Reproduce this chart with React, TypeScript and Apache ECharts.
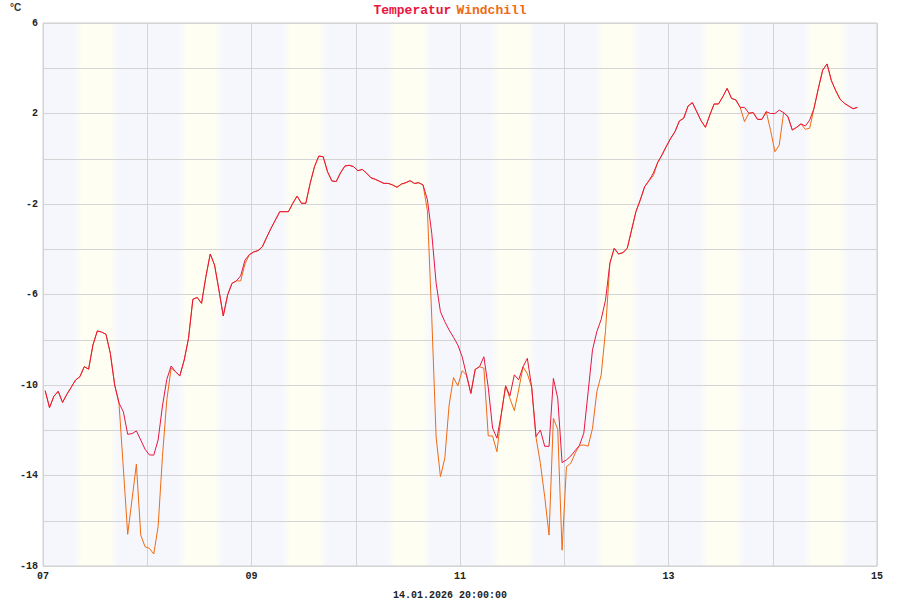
import React, { useEffect, useRef } from "react";
import * as echarts from "echarts";

// hourly readings starting 07.01.2026 00:00 (x in days of month)
const startDay = 7;
const temperatur = [
  -10.25, -11.0, -10.5, -10.28, -10.77, -10.41, -10.1, -9.78, -9.63, -9.19,
  -9.3, -8.23, -7.61, -7.66, -7.76, -8.6, -10.0, -10.8, -11.18, -12.18,
  -12.15, -12.03, -12.43, -12.84, -13.09, -13.1, -12.43, -10.93, -9.75, -9.16,
  -9.41, -9.6, -8.9, -7.94, -6.21, -6.13, -6.39, -5.21, -4.21, -4.7,
  -5.8, -6.95, -6.02, -5.51, -5.4, -5.18, -4.48, -4.24, -4.12, -4.06,
  -3.89, -3.47, -3.07, -2.71, -2.34, -2.34, -2.34, -1.97, -1.65, -1.97,
  -1.97, -1.09, -0.35, 0.12, 0.09, -0.57, -0.98, -1.01, -0.62, -0.32,
  -0.29, -0.35, -0.53, -0.47, -0.64, -0.84, -0.91, -1.0, -1.09, -1.09,
  -1.16, -1.26, -1.12, -1.06, -0.97, -1.09, -1.06, -1.16, -1.82, -3.3,
  -5.5, -6.76, -7.2, -7.57, -7.89, -8.23, -8.75, -9.56, -10.37, -9.31,
  -9.19, -8.75, -10.1, -11.9, -12.35, -11.3, -10.04, -10.48, -9.55, -9.77,
  -9.2, -8.82, -10.1, -12.28, -11.99, -12.71, -12.71, -9.71, -10.59, -13.43,
  -13.31, -13.14, -12.9, -12.67, -12.13, -10.3, -8.45, -7.64, -7.1, -6.25,
  -4.62, -3.96, -4.21, -4.15, -3.96, -3.15, -2.34, -1.82, -1.24, -0.97,
  -0.64, -0.17, 0.17, 0.55, 0.9, 1.2, 1.67, 1.79, 2.33, 2.48,
  2.08, 1.68, 1.39, 1.93, 2.42, 2.42, 2.74, 3.11, 2.67, 2.6,
  2.27, 2.27, 2.01, 2.04, 1.74, 1.74, 2.08, 2.0, 2.0, 2.15,
  2.04, 1.86, 1.27, 1.39, 1.54, 1.45, 1.71, 2.23, 3.11, 3.92,
  4.19, 3.45, 3.01, 2.63, 2.45, 2.33, 2.21, 2.27,
];
const windchill = [
  -10.25, -11.0, -10.5, -10.28, -10.77, -10.41, -10.1, -9.78, -9.63, -9.19,
  -9.3, -8.23, -7.61, -7.66, -7.76, -8.6, -10.0, -10.8, -13.7, -16.6,
  -15.05, -13.5, -16.63, -17.15, -17.22, -17.47, -16.26, -13.17, -10.66, -9.25,
  -9.41, -9.6, -8.9, -7.94, -6.21, -6.13, -6.39, -5.21, -4.21, -4.7,
  -5.8, -6.95, -6.02, -5.51, -5.4, -5.4, -4.65, -4.24, -4.12, -4.06,
  -3.89, -3.47, -3.07, -2.71, -2.34, -2.34, -2.34, -1.97, -1.65, -1.97,
  -1.97, -1.09, -0.35, 0.12, 0.09, -0.57, -0.98, -1.01, -0.62, -0.32,
  -0.29, -0.35, -0.53, -0.47, -0.64, -0.84, -0.91, -1.0, -1.09, -1.09,
  -1.16, -1.26, -1.12, -1.06, -0.97, -1.09, -1.06, -1.16, -2.3, -7.0,
  -12.3, -14.05, -13.24, -10.88, -9.67, -10.04, -9.37, -9.56, -10.37, -9.31,
  -9.19, -9.26, -12.25, -12.25, -12.95, -11.3, -10.04, -10.6, -11.13, -10.22,
  -9.2, -9.5, -10.1, -12.31, -13.46, -14.94, -16.63, -11.47, -11.96, -17.3,
  -13.61, -13.46, -13.02, -12.67, -12.65, -12.7, -11.92, -10.3, -9.56, -7.6,
  -4.62, -3.96, -4.21, -4.15, -3.96, -3.15, -2.34, -1.82, -1.24, -0.97,
  -0.75, -0.17, 0.17, 0.55, 0.9, 1.2, 1.67, 1.79, 2.33, 2.48,
  2.08, 1.68, 1.39, 1.93, 2.42, 2.42, 2.74, 3.11, 2.67, 2.6,
  2.27, 1.64, 2.01, 2.04, 1.74, 1.74, 2.08, 1.25, 0.31, 0.61,
  2.04, 1.86, 1.27, 1.39, 1.54, 1.3, 1.35, 2.23, 3.11, 3.92,
  4.19, 3.45, 3.01, 2.63, 2.45, 2.33, 2.21, 2.27,
];
const xTickDays = [7, 9, 11, 13, 15];
const yTickLabels = [-18, -14, -10, -6, -2, 2, 6];
const dayHours = [7.1, 17.4]; // daylight band (hours)
const days = [7, 8, 9, 10, 11, 12, 13, 14];
const footer = "14.01.2026 20:00:00";

const RED = "#e8163f";
const ORANGE = "#ef6a12";
const BLUE_BG = "#f6f7fd";
const YEL_BG = "#fefef3";
const MONO = "'Liberation Mono', 'DejaVu Sans Mono', monospace";

export default function App() {
  const ref = useRef<HTMLDivElement>(null);
  useEffect(() => {
    if (!ref.current) return;
    const chart = echarts.init(ref.current, null, { renderer: "svg" });
    const toPts = (arr: number[]) =>
      arr.map((v, i) => [startDay + (i + 0.5) / 24, v]);
    const dayAreas = days.map((d) => [
      {
        xAxis: d + dayHours[0] / 24,
        itemStyle: {
          color: {
            type: "linear",
            x: 0,
            y: 0,
            x2: 1,
            y2: 0,
            colorStops: [
              { offset: 0, color: BLUE_BG },
              { offset: 0.18, color: YEL_BG },
              { offset: 0.82, color: YEL_BG },
              { offset: 1, color: BLUE_BG },
            ],
          },
        },
      },
      { xAxis: d + dayHours[1] / 24 },
    ]);
    chart.setOption({
      animation: false,
      backgroundColor: "#ffffff",
      title: {
        text: "{a|Temperatur} {b|Windchill}",
        left: "center",
        top: -4,
        textStyle: {
          rich: {
            a: { color: RED, fontFamily: MONO, fontWeight: "bold", fontSize: 13 },
            b: { color: ORANGE, fontFamily: MONO, fontWeight: "bold", fontSize: 13 },
          },
        },
      },
      graphic: [
        {
          type: "text",
          left: 10,
          top: 2,
          style: { text: "°C", font: "bold 10px 'Liberation Sans', Arial, sans-serif", fill: "#333" },
        },
        {
          type: "text",
          left: "center",
          top: 590,
          style: { text: footer, font: `bold 10px ${MONO}`, fill: "#222" },
        },
      ],
      grid: {
        left: 43,
        right: 23,
        top: 23,
        bottom: 34,
        show: true,
        z: 1,
        borderColor: "#cfcfcf",
        borderWidth: 1,
        backgroundColor: "transparent",
      },
      xAxis: {
        type: "value",
        min: 7,
        max: 15,
        interval: 1,
        z: 1,
        axisLine: { show: false },
        axisTick: { show: false },
        splitLine: { show: true, lineStyle: { color: "#d4d4d4", width: 1 } },
        axisLabel: {
          margin: 5,
          fontFamily: MONO,
          fontWeight: "bold",
          fontSize: 10,
          color: "#222",
          formatter: (v: number) =>
            xTickDays.includes(v) ? String(v).padStart(2, "0") : "",
        },
      },
      yAxis: {
        type: "value",
        min: -18,
        max: 6,
        interval: 2,
        z: 1,
        axisLine: { show: false },
        axisTick: { show: false },
        splitLine: { show: true, lineStyle: { color: "#d4d4d4", width: 1 } },
        axisLabel: {
          margin: 5,
          fontFamily: MONO,
          fontWeight: "bold",
          fontSize: 10,
          color: "#222",
          formatter: (v: number) => (yTickLabels.includes(v) ? String(v) : ""),
        },
      },
      series: [
        {
          type: "line",
          data: [],
          silent: true,
          z: 0.5,
          markArea: {
            silent: true,
            z: 0.5,
            data: [
              [{ xAxis: 7, itemStyle: { color: BLUE_BG } }, { xAxis: 15 }],
              ...dayAreas,
            ],
          },
        },
        {
          name: "Windchill",
          type: "line",
          z: 2,
          data: toPts(windchill),
          showSymbol: false,
          lineStyle: { color: ORANGE, width: 1 },
          itemStyle: { color: ORANGE },
        },
        {
          name: "Temperatur",
          type: "line",
          z: 3,
          data: toPts(temperatur),
          showSymbol: false,
          lineStyle: { color: RED, width: 1 },
          itemStyle: { color: RED },
        },
      ],
    });
    return () => chart.dispose();
  }, []);
  return <div ref={ref} style={{ width: 900, height: 600, position: "absolute", left: 0, top: 0 }} />;
}
